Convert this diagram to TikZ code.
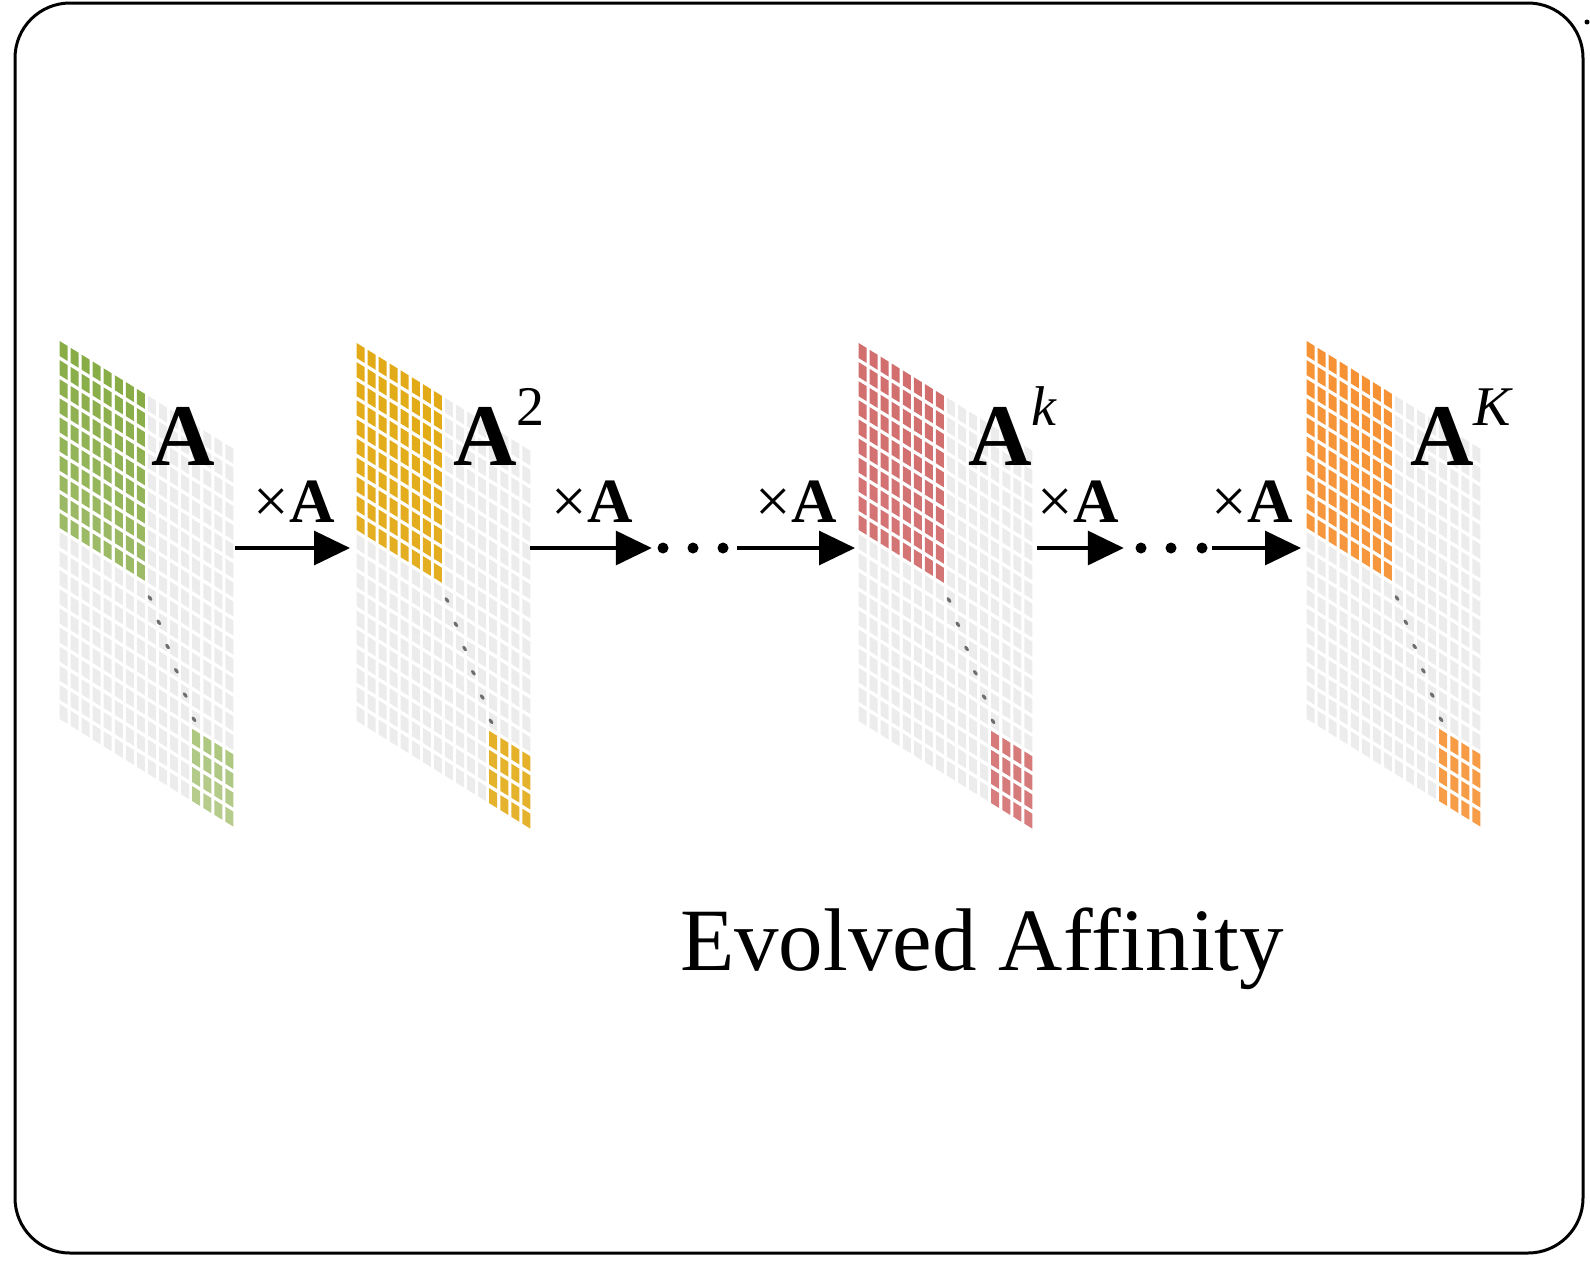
\documentclass[tikz,border=0pt]{standalone}
\usepackage{fontspec}
\setmainfont{Liberation Serif}
\usetikzlibrary{arrows.meta}

\definecolor{affgreen}{RGB}{136,172,70}
\definecolor{affyellow}{RGB}{226,170,22}
\definecolor{affred}{RGB}{210,110,110}
\definecolor{afforange}{RGB}{246,146,52}
\definecolor{cellgray}{RGB}{236,236,236}
\definecolor{diaggray}{RGB}{110,110,110}

% sheared affinity matrix: #1 top-left corner, #2 colour, #3 fade per row
\newcommand{\affmat}[3]{%
  \begin{scope}[shift={#1},yslant=-0.62]
    \foreach \i in {0,...,15}{
      \foreach \j in {0,...,19}{
        \def\cellcol{cellgray}
        \ifnum\i<8 \ifnum\j<10 \pgfmathtruncatemacro\pct{100-#3*\j}\edef\cellcol{#2!\pct!white}\fi\fi
        \ifnum\i>11 \ifnum\j>15 \pgfmathtruncatemacro\pct{100-#3*\j}\edef\cellcol{#2!\pct!white}\fi\fi
        \fill[fill=\cellcol] (\i*11.06+1.5,\j*19.1+2) rectangle ++(8,15);
      }
    }
    \foreach \t in {0,...,5}
      \fill[diaggray] ({92+\t*8.8},{203+\t*18.8}) circle (2.3);
  \end{scope}}

% exponent beside a bold A
\newcommand{\powsup}[1]{\raisebox{40pt}{\normalfont\fontsize{56}{56}\selectfont #1}}

\begin{document}
\begin{tikzpicture}[x=1pt,y=-1pt,
    flow/.style={-{Triangle[length=36pt,width=34pt]},line width=3.2pt},
    dotnode/.style={circle,fill=black,minimum size=11pt,inner sep=0pt},
    powlabel/.style={inner sep=0pt,anchor=base west,font=\fontsize{88}{88}\selectfont\bfseries},
    mullabel/.style={inner sep=0pt,anchor=base,font=\fontsize{63}{63}\selectfont}]

    \useasboundingbox (0,0) rectangle (1590,1262);

    % Frame
    \draw[line width=3pt,rounded corners=55pt] (15,3) rectangle (1583,1253);
    \fill (1587,22) circle (2.5);

    % Matrices
    \affmat{(58,338)}{affgreen}{2}
    \affmat{(355,340)}{affyellow}{0.5}
    \affmat{(857,340)}{affred}{0.5}
    \affmat{(1305,338)}{afforange}{0.5}

    % Define vertices
    \node[powlabel] (A1) at (151,465) {A};
    \node[powlabel] (A2) at (453,465) {A\powsup{2}};
    \node[powlabel] (Ak) at (968,465) {A\powsup{\textit{k}}};
    \node[powlabel] (AK) at (1410,465) {A\powsup{\textit{K}}};

    \coordinate (m1r) at (235,548);
    \coordinate (m2l) at (350,548);
    \coordinate (m2r) at (530,548);
    \coordinate (m3l) at (855,548);
    \coordinate (m3r) at (1037,548);
    \coordinate (m4l) at (1301,548);

    \node[dotnode] (d1a) at (663,548) {};
    \node[dotnode] (d1b) at (693,548) {};
    \node[dotnode] (d1c) at (723,548) {};
    \node[dotnode] (d2a) at (1141,548) {};
    \node[dotnode] (d2b) at (1171,548) {};
    \node[dotnode] (d2c) at (1202,548) {};

    % Draw edges
    \draw[flow] (m1r) -- (m2l);
    \draw[flow,shorten >=5.5pt] (m2r) -- (d1a);
    \draw[flow,shorten <=8.5pt] (d1c) -- (m3l);
    \draw[flow,shorten >=11.5pt] (m3r) -- (d2a);
    \draw[flow,shorten <=4.5pt] (d2c) -- (m4l);

    \node[mullabel] (x1) at (294,522) {×\textbf{A}};
    \node[mullabel] (x2) at (592,522) {×\textbf{A}};
    \node[mullabel] (x3) at (796,522) {×\textbf{A}};
    \node[mullabel] (x4) at (1078,522) {×\textbf{A}};
    \node[mullabel] (x5) at (1252,522) {×\textbf{A}};

    \node[inner sep=0pt,anchor=base,font=\fontsize{89}{89}\selectfont] (cap) at (982,970) {Evolved Affinity};

\end{tikzpicture}
\end{document}
